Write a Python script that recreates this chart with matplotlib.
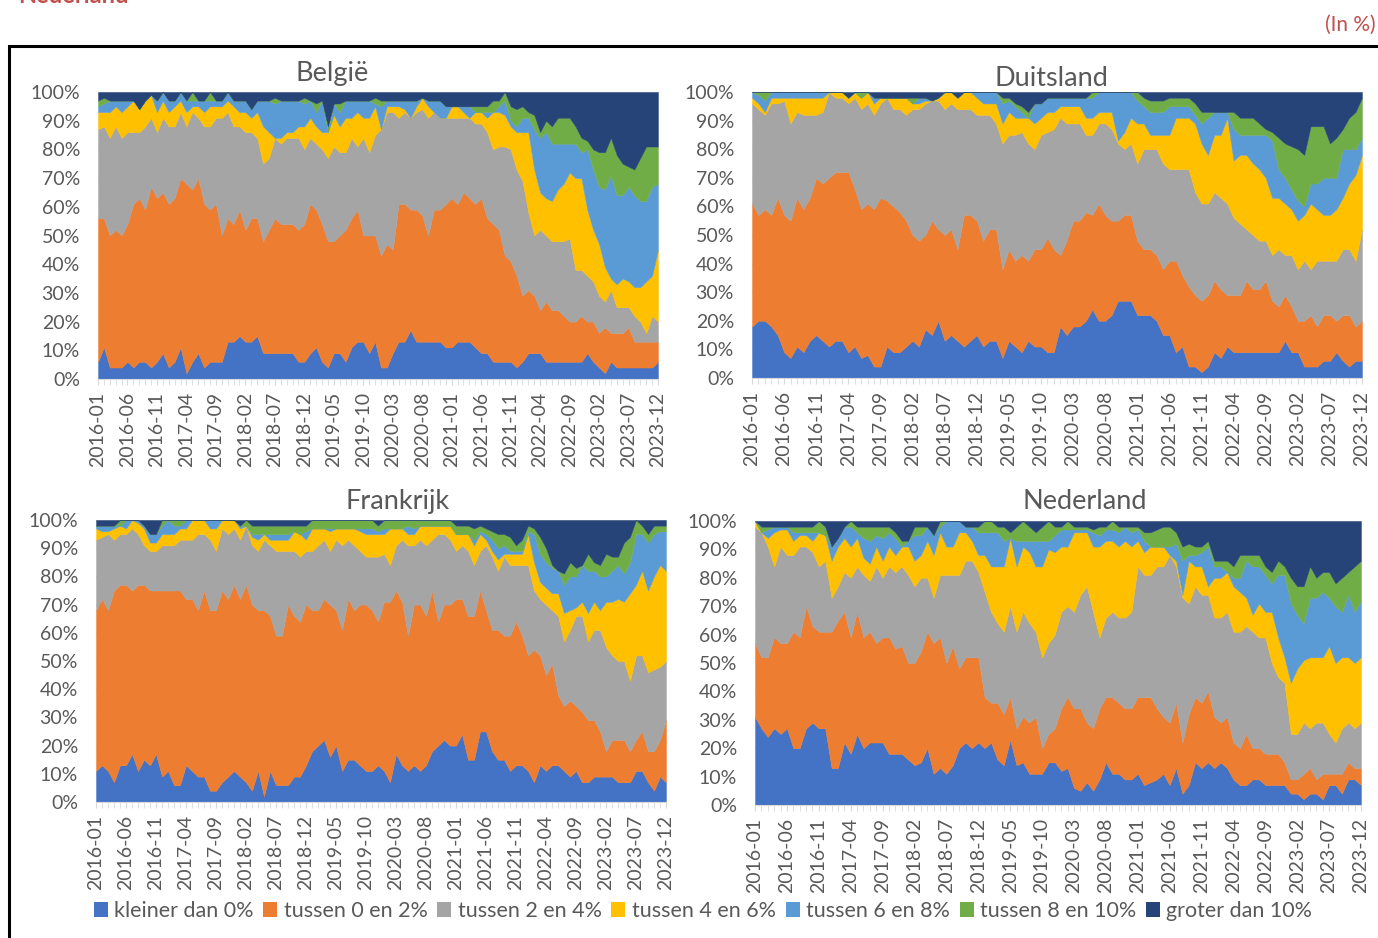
import numpy as np
import pandas as pd
import matplotlib
matplotlib.use("Agg")
import matplotlib.pyplot as plt
from matplotlib.patches import Patch, Rectangle

plt.rcParams['font.family'] = ['Lato', 'DejaVu Sans']

W, H = 1378, 938

months = pd.period_range('2016-01', '2023-12', freq='M').strftime('%Y-%m').tolist()
categories = ['kleiner dan 0%', 'tussen 0 en 2%', 'tussen 2 en 4%', 'tussen 4 en 6%',
              'tussen 6 en 8%', 'tussen 8 en 10%', 'groter dan 10%']
colors = ['#4472C4', '#ED7D31', '#A5A5A5', '#FFC000', '#5B9BD5', '#70AD47', '#264478']

# upper edge (in %) of each band in the stack, one row per year
# België
be_lt0 = [6, 11, 4, 4, 4, 6, 4, 6, 6, 4, 6, 9,
          4, 6, 11, 2, 6, 9, 4, 6, 6, 6, 13, 13,
          15, 13, 13, 15, 9, 9, 9, 9, 9, 9, 6, 6,
          9, 11, 6, 4, 9, 9, 6, 11, 13, 13, 9, 13,
          4, 4, 9, 13, 13, 17, 13, 13, 13, 13, 13, 11,
          11, 13, 13, 13, 11, 9, 9, 6, 6, 6, 6, 4,
          6, 9, 9, 9, 6, 6, 6, 6, 6, 6, 6, 9,
          6, 4, 2, 6, 4, 4, 4, 4, 4, 4, 4, 6]
be_0_2 = [56, 56, 50, 52, 50, 54, 61, 63, 59, 67, 63, 65,
          61, 63, 70, 68, 66, 70, 61, 59, 61, 50, 56, 54,
          59, 52, 56, 56, 48, 52, 56, 54, 54, 54, 52, 54,
          61, 59, 54, 48, 48, 50, 52, 56, 59, 50, 50, 50,
          43, 47, 45, 61, 61, 59, 59, 57, 50, 59, 59, 61,
          63, 61, 65, 63, 61, 63, 56, 54, 52, 43, 41, 36,
          29, 31, 29, 24, 27, 24, 24, 22, 20, 20, 22, 20,
          20, 16, 18, 16, 16, 16, 18, 13, 13, 13, 13, 13]
be_2_4 = [87, 88, 84, 88, 84, 86, 86, 86, 88, 91, 86, 91,
          88, 88, 93, 88, 93, 91, 88, 88, 91, 91, 93, 88,
          88, 86, 86, 84, 75, 77, 84, 82, 84, 84, 84, 80,
          84, 82, 80, 77, 81, 79, 79, 84, 81, 84, 79, 85,
          87, 93, 93, 91, 93, 91, 93, 94, 91, 93, 91, 91,
          91, 91, 91, 91, 89, 89, 86, 80, 81, 81, 80, 73,
          69, 58, 50, 52, 50, 48, 48, 48, 49, 38, 38, 36,
          34, 29, 27, 31, 25, 25, 25, 22, 20, 16, 22, 20]
be_4_6 = [93, 93, 93, 95, 93, 95, 97, 94, 97, 99, 93, 97,
          93, 95, 97, 93, 95, 95, 93, 95, 95, 95, 97, 95,
          93, 93, 91, 93, 88, 86, 84, 84, 86, 86, 88, 88,
          91, 88, 86, 86, 92, 88, 91, 91, 93, 91, 91, 95,
          87, 95, 95, 95, 94, 91, 95, 98, 95, 93, 91, 91,
          95, 95, 93, 91, 93, 93, 91, 93, 93, 92, 88, 86,
          86, 86, 73, 65, 63, 62, 66, 68, 72, 70, 70, 59,
          52, 47, 39, 35, 33, 35, 34, 32, 32, 34, 36, 45]
be_6_8 = [95, 96, 97, 97, 97, 97, 97, 94, 97, 99, 97, 100,
          97, 97, 100, 97, 97, 97, 97, 97, 97, 97, 100, 97,
          97, 97, 94, 97, 97, 97, 96, 97, 97, 97, 97, 96,
          97, 93, 97, 86, 96, 93, 97, 97, 97, 97, 97, 96,
          95, 97, 97, 97, 97, 97, 97, 98, 97, 97, 97, 95,
          95, 95, 95, 95, 93, 93, 93, 93, 95, 97, 90, 88,
          91, 91, 87, 84, 86, 82, 82, 82, 82, 82, 79, 80,
          73, 67, 66, 71, 64, 64, 67, 64, 62, 62, 67, 68]
be_8_10 = [97, 98, 97, 97, 97, 97, 97, 94, 97, 99, 97, 100,
           97, 97, 100, 97, 100, 97, 97, 100, 97, 97, 100, 97,
           97, 97, 94, 97, 97, 97, 98, 97, 97, 97, 97, 98,
           97, 96, 97, 88, 96, 96, 97, 97, 97, 97, 97, 98,
           97, 97, 97, 97, 97, 97, 97, 98, 97, 97, 97, 95,
           95, 95, 95, 95, 95, 95, 95, 97, 97, 100, 95, 94,
           95, 93, 92, 86, 90, 88, 91, 91, 91, 88, 84, 83,
           80, 79, 79, 84, 78, 75, 74, 73, 77, 81, 81, 81]

# Duitsland
de_lt0 = [18, 20, 20, 18, 15, 9, 7, 11, 9, 13, 15, 13,
          11, 13, 13, 9, 11, 7, 8, 4, 4, 11, 9, 9,
          11, 13, 11, 17, 15, 20, 13, 15, 13, 11, 13, 15,
          11, 13, 13, 7, 13, 11, 9, 13, 11, 11, 9, 9,
          18, 15, 18, 18, 20, 24, 20, 20, 22, 27, 27, 27,
          22, 22, 22, 20, 15, 15, 9, 11, 4, 4, 2, 4,
          9, 7, 11, 9, 9, 9, 9, 9, 9, 9, 9, 13,
          9, 9, 4, 4, 4, 6, 6, 9, 6, 4, 6, 6]
de_0_2 = [61, 57, 59, 57, 63, 57, 55, 63, 59, 63, 70, 68,
          70, 72, 72, 72, 66, 59, 61, 59, 63, 62, 60, 58,
          55, 50, 48, 50, 55, 52, 50, 52, 45, 57, 57, 55,
          48, 52, 52, 38, 45, 41, 43, 41, 45, 45, 49, 45,
          43, 48, 55, 55, 58, 57, 61, 57, 55, 55, 57, 57,
          48, 45, 45, 43, 38, 41, 41, 36, 32, 29, 27, 29,
          34, 31, 29, 29, 29, 34, 31, 31, 34, 27, 25, 29,
          25, 20, 20, 22, 18, 22, 22, 20, 22, 22, 18, 20]
de_2_4 = [96, 94, 92, 96, 96, 97, 89, 93, 92, 92, 92, 93,
          100, 98, 98, 96, 98, 94, 96, 92, 96, 98, 94, 94,
          92, 94, 94, 96, 97, 97, 94, 96, 94, 94, 94, 92,
          92, 92, 89, 82, 85, 85, 86, 82, 80, 85, 86, 87,
          91, 89, 89, 89, 85, 85, 89, 89, 87, 82, 80, 82,
          75, 80, 80, 80, 75, 73, 73, 73, 73, 65, 61, 61,
          65, 63, 61, 56, 54, 52, 50, 48, 48, 43, 45, 43,
          43, 38, 41, 38, 41, 41, 41, 41, 45, 45, 41, 52]
de_4_6 = [98, 96, 93, 98, 98, 98, 98, 98, 98, 98, 98, 98,
          100, 100, 100, 98, 100, 98, 100, 96, 98, 98, 98, 98,
          98, 96, 96, 97, 97, 98, 100, 100, 98, 100, 100, 98,
          96, 96, 96, 89, 93, 91, 91, 91, 89, 91, 93, 93,
          95, 95, 95, 95, 91, 91, 93, 93, 93, 83, 86, 91,
          89, 89, 85, 85, 85, 85, 91, 91, 91, 89, 82, 78,
          85, 85, 91, 76, 78, 78, 75, 73, 70, 63, 63, 61,
          59, 55, 57, 61, 59, 57, 57, 59, 63, 68, 71, 78]
de_6_8 = [100, 99, 97, 100, 100, 100, 100, 100, 100, 100, 100, 100,
          100, 100, 100, 98, 100, 98, 100, 98, 98, 98, 98, 98,
          98, 96, 98, 98, 96, 98, 100, 100, 98, 100, 100, 100,
          100, 100, 100, 96, 97, 95, 93, 91, 96, 96, 98, 98,
          98, 98, 98, 98, 98, 98, 100, 100, 100, 100, 100, 100,
          97, 95, 93, 93, 93, 95, 95, 95, 95, 92, 89, 91,
          93, 93, 93, 87, 85, 85, 85, 85, 85, 83, 73, 70,
          66, 62, 60, 68, 68, 70, 70, 70, 80, 80, 80, 84]
de_8_10 = [100, 100, 100, 100, 100, 100, 100, 100, 100, 100, 100, 100,
           100, 100, 100, 98, 100, 100, 100, 98, 98, 98, 98, 98,
           98, 98, 98, 98, 96, 98, 100, 100, 98, 100, 100, 100,
           100, 100, 100, 98, 98, 96, 95, 93, 96, 96, 98, 98,
           98, 98, 98, 98, 98, 100, 100, 100, 100, 100, 100, 100,
           100, 98, 97, 97, 97, 98, 98, 98, 98, 96, 93, 93,
           93, 93, 93, 93, 91, 91, 91, 89, 87, 86, 84, 82,
           81, 80, 78, 88, 88, 88, 82, 84, 87, 91, 93, 98]

# Frankrijk
fr_lt0 = [11, 13, 11, 7, 13, 13, 17, 11, 15, 13, 17, 9,
          11, 6, 6, 13, 11, 9, 9, 4, 4, 7, 9, 11,
          9, 7, 4, 11, 2, 11, 6, 6, 6, 9, 9, 13,
          18, 20, 22, 16, 20, 11, 15, 15, 13, 11, 11, 13,
          11, 7, 17, 13, 11, 13, 11, 13, 18, 20, 22, 20,
          20, 24, 15, 15, 25, 25, 18, 15, 15, 11, 13, 13,
          11, 7, 13, 11, 13, 13, 11, 9, 11, 7, 7, 9,
          9, 9, 9, 7, 7, 7, 11, 11, 7, 4, 9, 7]
fr_0_2 = [68, 72, 68, 75, 77, 77, 75, 77, 77, 75, 75, 75,
          75, 75, 75, 72, 72, 68, 75, 68, 68, 75, 72, 77,
          72, 77, 70, 68, 68, 66, 59, 59, 70, 66, 64, 70,
          68, 68, 72, 70, 68, 61, 72, 68, 70, 70, 68, 64,
          71, 71, 75, 71, 59, 70, 70, 66, 75, 64, 70, 70,
          72, 72, 66, 66, 75, 68, 61, 61, 59, 59, 64, 59,
          52, 54, 52, 45, 49, 38, 34, 36, 34, 32, 29, 29,
          25, 18, 22, 22, 22, 18, 22, 25, 18, 18, 22, 29]
fr_2_4 = [93, 94, 95, 93, 95, 95, 97, 95, 91, 89, 89, 91,
          91, 91, 93, 93, 93, 95, 95, 93, 89, 97, 95, 97,
          93, 98, 91, 89, 93, 91, 89, 89, 89, 89, 87, 89,
          89, 91, 93, 89, 93, 91, 93, 91, 89, 87, 87, 87,
          88, 84, 91, 93, 91, 91, 93, 91, 93, 95, 95, 93,
          89, 91, 89, 84, 89, 91, 87, 82, 87, 84, 84, 84,
          84, 75, 72, 70, 68, 66, 57, 61, 66, 66, 57, 61,
          61, 55, 52, 50, 50, 43, 52, 52, 46, 47, 48, 50]
fr_4_6 = [97, 96, 96, 97, 98, 97, 100, 99, 97, 92, 92, 95,
          95, 95, 97, 97, 100, 100, 100, 97, 97, 100, 100, 100,
          97, 98, 94, 93, 95, 93, 93, 93, 93, 96, 95, 93,
          97, 97, 97, 96, 97, 97, 97, 97, 96, 95, 95, 95,
          95, 97, 97, 97, 95, 95, 98, 98, 98, 98, 98, 98,
          95, 95, 95, 91, 95, 93, 89, 86, 88, 88, 88, 88,
          95, 85, 78, 76, 74, 74, 67, 68, 69, 71, 67, 71,
          68, 71, 71, 72, 71, 74, 77, 82, 75, 80, 84, 82]
fr_6_8 = [98, 98, 98, 98, 98, 100, 100, 100, 98, 95, 95, 98,
          100, 98, 98, 100, 100, 100, 100, 100, 100, 100, 100, 100,
          98, 98, 95, 95, 95, 95, 95, 95, 95, 96, 95, 96,
          97, 97, 97, 97, 97, 97, 97, 97, 97, 97, 97, 96,
          97, 97, 97, 97, 98, 97, 98, 98, 98, 98, 98, 98,
          95, 95, 95, 93, 96, 95, 93, 90, 91, 89, 89, 89,
          96, 95, 88, 85, 83, 82, 77, 80, 80, 84, 82, 82,
          80, 80, 82, 84, 81, 85, 95, 95, 92, 95, 96, 96]
fr_8_10 = [98, 98, 98, 98, 100, 100, 100, 100, 98, 95, 95, 100,
           100, 100, 100, 100, 100, 100, 100, 100, 100, 100, 100, 100,
           98, 100, 98, 98, 98, 98, 98, 98, 98, 98, 98, 98,
           100, 100, 100, 100, 100, 100, 100, 100, 100, 100, 100, 98,
           100, 100, 100, 100, 100, 100, 100, 100, 100, 100, 100, 100,
           98, 98, 98, 97, 98, 97, 96, 95, 95, 94, 91, 93,
           98, 97, 94, 90, 84, 82, 81, 85, 83, 84, 88, 85,
           84, 88, 87, 87, 92, 94, 100, 98, 95, 98, 98, 98]

# Nederland
nl_lt0 = [31, 27, 24, 27, 25, 27, 20, 20, 27, 29, 27, 27,
          13, 13, 22, 18, 25, 20, 22, 22, 22, 18, 18, 18,
          16, 14, 15, 20, 11, 13, 11, 14, 20, 22, 20, 22,
          20, 22, 16, 14, 23, 14, 15, 11, 11, 11, 15, 15,
          12, 13, 6, 5, 8, 5, 9, 15, 11, 11, 9, 9,
          11, 7, 8, 9, 11, 7, 13, 4, 7, 15, 13, 15,
          13, 15, 13, 9, 7, 7, 9, 9, 7, 7, 7, 7,
          4, 4, 2, 4, 4, 2, 7, 7, 4, 9, 9, 7]
nl_0_2 = [57, 52, 52, 59, 57, 57, 61, 59, 70, 63, 61, 61,
          61, 65, 68, 59, 68, 59, 61, 57, 59, 59, 55, 56,
          50, 50, 54, 61, 57, 59, 50, 56, 48, 52, 52, 52,
          38, 36, 36, 32, 38, 27, 31, 29, 31, 20, 25, 27,
          34, 38, 34, 34, 29, 27, 34, 38, 38, 36, 34, 34,
          38, 38, 38, 34, 31, 29, 36, 22, 32, 38, 36, 40,
          31, 29, 31, 22, 20, 25, 20, 20, 18, 18, 18, 15,
          9, 9, 11, 13, 9, 11, 11, 11, 11, 15, 13, 13]
nl_2_4 = [98, 96, 91, 84, 91, 88, 88, 91, 91, 89, 84, 86,
          73, 77, 82, 80, 84, 81, 79, 84, 80, 84, 82, 84,
          81, 77, 80, 80, 73, 81, 81, 81, 81, 86, 86, 82,
          75, 68, 64, 61, 70, 61, 68, 64, 61, 52, 57, 60,
          68, 70, 68, 74, 77, 68, 59, 66, 68, 66, 66, 68,
          84, 81, 81, 84, 84, 88, 84, 73, 71, 77, 74, 74,
          66, 66, 68, 61, 61, 63, 61, 59, 59, 50, 45, 43,
          25, 25, 29, 27, 29, 29, 25, 22, 27, 29, 27, 29]
nl_4_6 = [100, 96, 94, 96, 97, 97, 93, 95, 95, 93, 96, 95,
          86, 91, 94, 91, 94, 87, 85, 91, 86, 91, 88, 91,
          91, 86, 88, 93, 88, 96, 91, 91, 96, 96, 93, 88,
          88, 84, 84, 84, 94, 84, 91, 89, 84, 84, 90, 89,
          91, 91, 96, 96, 96, 91, 91, 93, 93, 91, 93, 91,
          93, 89, 91, 91, 91, 88, 86, 74, 86, 84, 84, 77,
          80, 80, 82, 77, 75, 73, 67, 71, 68, 68, 59, 52,
          43, 48, 51, 52, 52, 52, 56, 50, 52, 52, 50, 52]
nl_6_8 = [100, 96, 97, 98, 98, 98, 96, 96, 96, 96, 96, 95,
          91, 94, 98, 98, 96, 94, 93, 95, 94, 96, 94, 91,
          93, 95, 95, 98, 95, 98, 100, 100, 100, 98, 98, 96,
          96, 96, 96, 93, 94, 93, 93, 93, 93, 93, 93, 95,
          97, 97, 97, 97, 97, 96, 95, 97, 97, 96, 98, 96,
          97, 93, 91, 91, 91, 91, 92, 86, 88, 88, 89, 91,
          84, 84, 82, 80, 80, 86, 84, 84, 81, 78, 81, 81,
          71, 67, 64, 73, 73, 75, 73, 70, 68, 74, 68, 72]
nl_8_10 = [100, 98, 98, 98, 98, 98, 98, 98, 98, 98, 100, 98,
           91, 94, 98, 100, 98, 98, 98, 98, 98, 98, 96, 93,
           93, 98, 98, 98, 95, 100, 100, 100, 100, 98, 98, 98,
           100, 100, 98, 98, 96, 98, 100, 98, 96, 98, 100, 98,
           98, 100, 98, 98, 98, 97, 98, 98, 100, 98, 98, 98,
           98, 96, 96, 97, 98, 98, 96, 91, 92, 91, 91, 93,
           86, 86, 86, 84, 88, 88, 88, 88, 84, 82, 86, 84,
           80, 77, 77, 84, 80, 82, 82, 78, 80, 82, 84, 86]


def shares(*edges):
    e = np.clip(np.array(edges, dtype=float), 0, 100)
    e = np.maximum.accumulate(e, axis=0)
    n = e.shape[1]
    return np.diff(np.vstack([np.zeros(n), e, np.full(n, 100.0)]), axis=0)


def box(x0, y0, x1, y1):
    return [x0 / W, 1 - y1 / H, (x1 - x0) / W, (y1 - y0) / H]


panels = [
    ('België', box(98, 92, 658, 379), (332, 74),
     (be_lt0, be_0_2, be_2_4, be_4_6, be_6_8, be_8_10)),
    ('Duitsland', box(752, 92, 1362, 378), (1051, 78),
     (de_lt0, de_0_2, de_2_4, de_4_6, de_6_8, de_8_10)),
    ('Frankrijk', box(96, 520, 666, 802), (398, 501),
     (fr_lt0, fr_0_2, fr_2_4, fr_4_6, fr_6_8, fr_8_10)),
    ('Nederland', box(755, 521, 1361, 805), (1085, 501),
     (nl_lt0, nl_0_2, nl_2_4, nl_4_6, nl_6_8, nl_8_10)),
]

grey_txt = '#595959'
fig = plt.figure(figsize=(W / 100, H / 100), dpi=100)
x = np.arange(len(months))

for title, pos, tpos, edges in panels:
    ax = fig.add_axes(pos)
    ax.stackplot(x, shares(*edges), colors=colors, edgecolor='face', linewidth=0.3)
    ax.set_xlim(0, len(months) - 1)
    ax.set_ylim(0, 100)
    ax.set_yticks(range(0, 101, 10))
    ax.set_yticklabels([f'{v}%' for v in range(0, 101, 10)])
    ax.set_xticks(x[::5])
    ax.set_xticklabels(months[::5], rotation=90)
    ax.set_xticks(x, minor=True)
    ax.tick_params(axis='y', length=0, pad=13, labelsize=14, labelcolor=grey_txt)
    ax.tick_params(axis='x', which='both', length=4, color='#d9d9d9', pad=5,
                   labelsize=14, labelcolor=grey_txt)
    for s in ['top', 'right', 'left']:
        ax.spines[s].set_visible(False)
    ax.spines['bottom'].set_color('#d9d9d9')
    ax.yaxis.grid(True, color='#d9d9d9', lw=0.8)
    ax.set_axisbelow(True)
    fig.text(tpos[0] / W, 1 - tpos[1] / H, title, ha='center', va='center',
             fontsize=19.5, color=grey_txt)

handles = [Patch(facecolor=c, edgecolor='none') for c in colors]
fig.legend(handles, categories, loc='center', bbox_to_anchor=(703 / W, 1 - 911 / H),
           ncol=7, frameon=False, fontsize=15.5, handlelength=0.65, handleheight=0.65,
           handletextpad=0.3, columnspacing=0.45, labelcolor=grey_txt)

# red header texts and frame of the original page
fig.text(18 / W, 1 - 3 / H, 'Nederland', ha='left', va='baseline', fontsize=17,
         fontweight='bold', color='#c0504d')
fig.text(1376 / W, 1 - 25 / H, '(In %)', ha='right', va='center', fontsize=15,
         color='#c0504d')
fig.patches.append(Rectangle((9 / W, -0.1), 1.2, 1 - 46.5 / H + 0.1, transform=fig.transFigure,
                             fill=False, lw=2.2, ec='black'))

fig.savefig('out.png', dpi=100)
